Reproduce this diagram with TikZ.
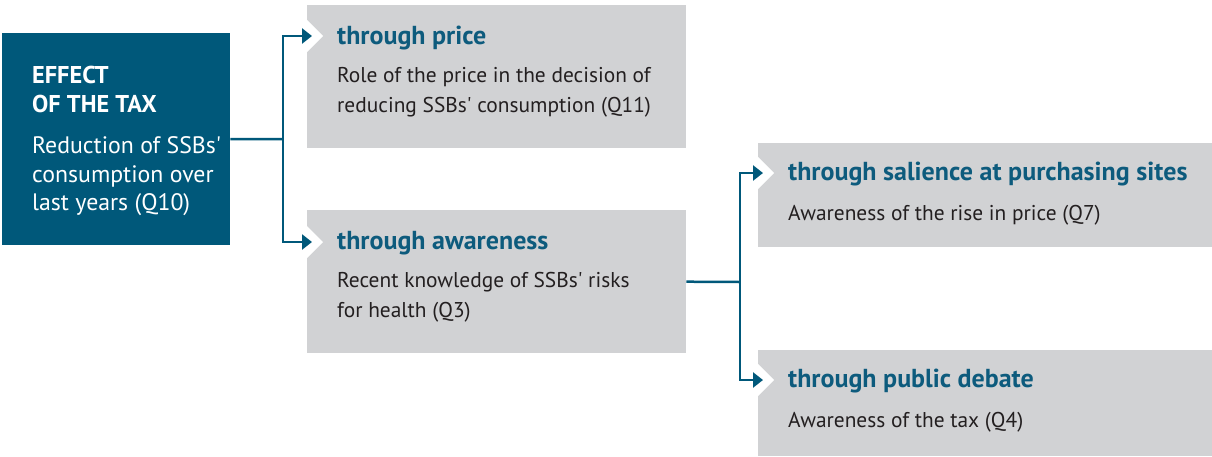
\documentclass[tikz,border=0pt]{standalone}
\usepackage{fontspec}
\newfontfamily\ptsans{PT Sans}
\usetikzlibrary{arrows.meta}
\definecolor{darkblue}{HTML}{00587A}
\definecolor{titleblue}{HTML}{0D5B7D}
\definecolor{boxgray}{HTML}{D1D2D4}
\definecolor{textgray}{HTML}{231F20}
\begin{document}
\begin{tikzpicture}[x=1pt,y=-1pt,
 box/.style={fill=boxgray, draw=none, inner sep=0, anchor=north west},
 ttl/.style={anchor=base west, inner sep=0, text=titleblue, font=\ptsans\fontsize{26}{30}\selectfont\bfseries},
 body/.style={anchor=base west, inner sep=0, text=textgray, font=\ptsans\fontsize{21.4}{30}\selectfont},
 wttl/.style={anchor=base west, inner sep=0, text=white, font=\ptsans\fontsize{24.3}{29}\selectfont\bfseries},
 wbody/.style={anchor=base west, inner sep=0, text=white, font=\ptsans\fontsize{23.8}{28}\selectfont},
 conn/.style={draw=darkblue, line width=2.5pt},
 arr/.style={conn, -{Triangle[length=10pt,width=15pt]}},
 notch/.style={fill=white, draw=none}]
\useasboundingbox (0,0) rectangle (1212,456);
% boxes
\node[box, fill=darkblue, minimum width=228pt, minimum height=212pt] (eff) at (2,33) {};
\node[box, minimum width=379pt, minimum height=143pt] (b1) at (307,5) {};
\node[box, minimum width=379pt, minimum height=143pt] (b2) at (307,210) {};
\node[box, minimum width=454pt, minimum height=104pt] (b3) at (758,143) {};
\node[box, minimum width=454pt, minimum height=106pt] (b4) at (758,350) {};
% notches
\fill[notch] (307,20) -- (323,36) -- (307,52) -- cycle;
\fill[notch] (307,226) -- (323,242) -- (307,258) -- cycle;
\fill[notch] (758,157) -- (774,173) -- (758,189) -- cycle;
\fill[notch] (758,364) -- (774,380) -- (758,396) -- cycle;
% texts
\node[wttl] (e1) at (32,83) {EFFECT};
\node[wttl] (e2) at (32,112) {OF THE TAX};
\node[wbody] (e3) at (32,153) {Reduction of SSBs'};
\node[wbody] (e4) at (32,182) {consumption over};
\node[wbody] (e5) at (32,210) {last years (Q10)};
\node[ttl] (t1) at (337,44) {through price};
\node[body] (t1a) at (337,82) {Role of the price in the decision of};
\node[body] (t1b) at (337,112) {reducing SSBs' consumption (Q11)};
\node[ttl] (t2) at (337,249) {through awareness};
\node[body] (t2a) at (337,287) {Recent knowledge of SSBs' risks};
\node[body] (t2b) at (337,317) {for health (Q3)};
\node[ttl] (t3) at (788,180) {through salience at purchasing sites};
\node[body] (t3a) at (788,220) {Awareness of the rise in price (Q7)};
\node[ttl] (t4) at (788,387) {through public debate};
\node[body] (t4a) at (788,427) {Awareness of the tax (Q4)};
% connectors
\coordinate (j1) at (283,139);
\coordinate (a1) at (312,36);
\coordinate (a2) at (312,242);
\coordinate (j2) at (740,282);
\coordinate (a3) at (763,173);
\coordinate (a4) at (763,380);
\draw[conn] (eff.east) -- (j1);
\draw[arr] (j1) |- (a1);
\draw[arr] (j1) |- (a2);
\draw[conn] (b2.east) -- (j2);
\draw[arr] (j2) |- (a3);
\draw[arr] (j2) |- (a4);
\end{tikzpicture}
\end{document}
